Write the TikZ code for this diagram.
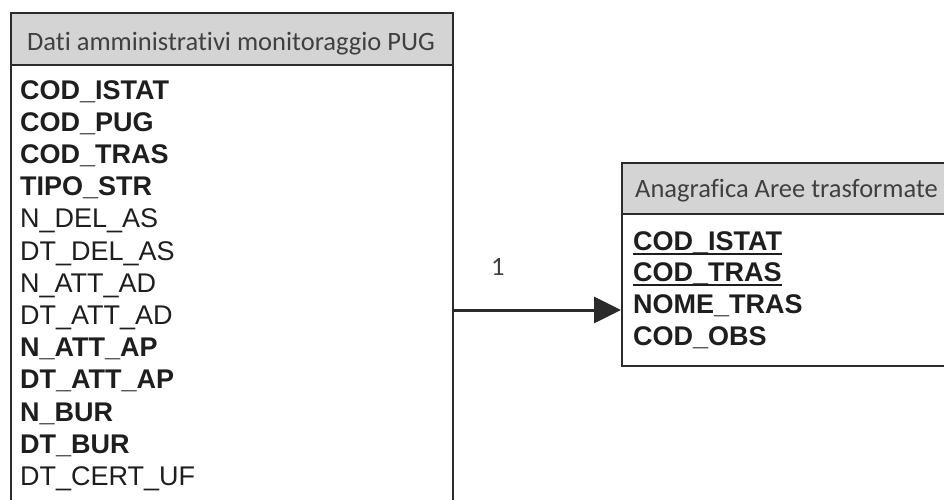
\documentclass[tikz,border=0pt]{standalone}
\usepackage{fontspec}
\setmainfont{Liberation Sans}
\newfontfamily\hdrfont[Ligatures=NoCommon]{Carlito}
\usetikzlibrary{arrows.meta,positioning}
\definecolor{edge}{HTML}{2B2B2B}
\definecolor{hdrgray}{HTML}{D4D4D4}
\definecolor{txt}{HTML}{1E1E1E}
% underlined key field
\newcommand{\keyfld}[1]{\setbox0\hbox{#1}\rlap{\rule[-4.5pt]{\wd0}{2pt}}\box0}

\begin{document}
\begin{tikzpicture}[x=1pt,y=-1pt,
    hdr/.style={draw=edge,line width=2pt,fill=hdrgray,anchor=north west,inner sep=0pt},
    body/.style={draw=edge,line width=2pt,fill=white,anchor=north west,inner sep=0pt},
    hdrtext/.style={anchor=base west,inner sep=0pt,text=txt!85,font=\hdrfont\fontsize{26.5}{30}\selectfont},
    fld/.style={anchor=base west,inner sep=0pt,text=txt,font=\fontsize{27}{32}\selectfont}]
    \useasboundingbox (0,0) rectangle (944,499);

    % left table
    \node[body,minimum width=442pt,minimum height=460pt] (lbody) at (10,63) {};
    \node[hdr,minimum width=442pt,minimum height=52pt] (lhead) at (10,12) {};
    \node[hdrtext] (ltitle) at (27,50) {Dati amministrativi monitoraggio PUG};
    \foreach \f [count=\i from 0] in {\textbf{COD\_ISTAT},\textbf{COD\_PUG},\textbf{COD\_TRAS},
        \textbf{TIPO\_STR},N\_DEL\_AS,DT\_DEL\_AS,N\_ATT\_AD,DT\_ATT\_AD,\textbf{N\_ATT\_AP},
        \textbf{DT\_ATT\_AP},\textbf{N\_BUR},\textbf{DT\_BUR},DT\_CERT\_UF}
        \node[fld] (lf\i) at (20,99+32.2*\i) {\f};

    % right table
    \node[body,minimum width=345pt,minimum height=152pt] (rbody) at (621,213) {};
    \node[hdr,minimum width=345pt,minimum height=51pt] (rhead) at (621,162) {};
    \node[hdrtext] (rtitle) at (635,197) {Anagrafica Aree trasformate};
    \foreach \f [count=\i from 0] in {\keyfld{\textbf{COD\_ISTAT}},\keyfld{\textbf{COD\_TRAS}},
        \textbf{NOME\_TRAS},\textbf{COD\_OBS}}
        \node[fld] (rf\i) at (633,250+31.7*\i) {\f};

    % link
    \coordinate (lnk) at (0,310);
    \draw[edge,line width=3pt,-{Triangle[length=27pt,width=26pt]}] (lbody.east |- lnk) -- (rbody.west |- lnk);
    \node[hdrtext] (card) at (491,275) {1};
\end{tikzpicture}
\end{document}
